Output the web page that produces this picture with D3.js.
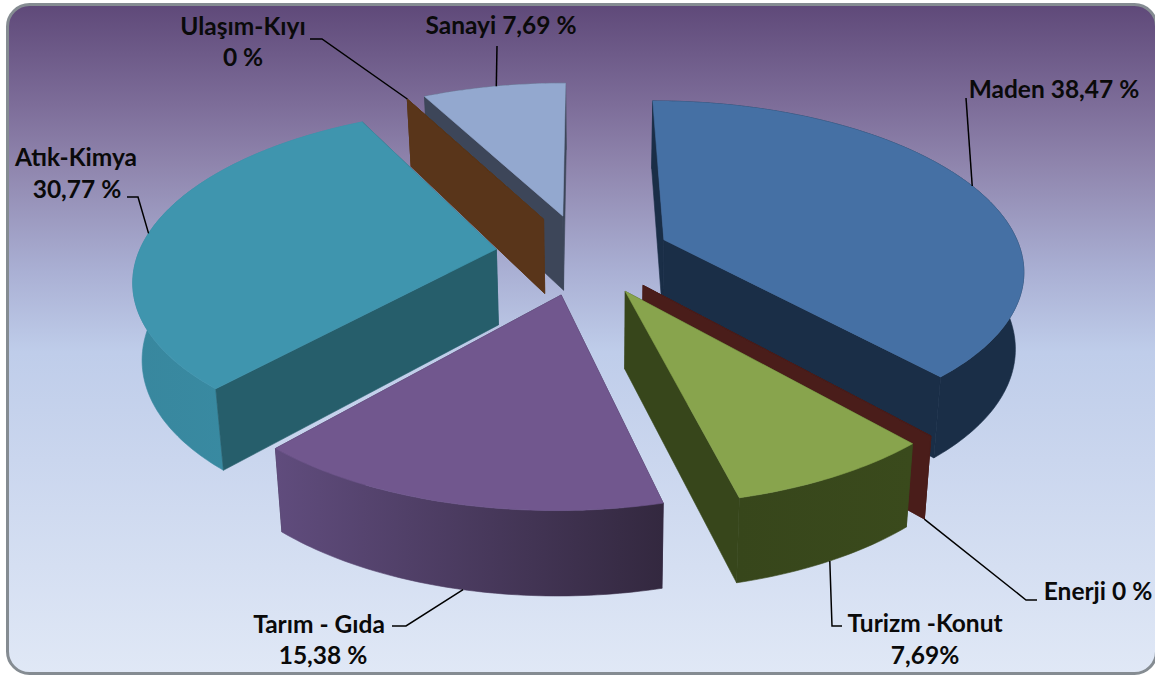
<!DOCTYPE html>
<html>
<head>
<meta charset="utf-8">
<script src="https://cdn.jsdelivr.net/npm/d3@7"></script>
<style>
html, body { margin: 0; padding: 0; background: #fff; }
svg { display: block; }
text { font-family: Lato, "Open Sans", sans-serif; font-weight: 700; font-size: 24.5px; fill: #0a0a0a; }
</style>
</head>
<body>
<script>
// values, clockwise from 12 o'clock
var categories = ["Maden", "Enerji", "Turizm -Konut", "Tarım - Gıda", "Atık-Kimya", "Ulaşım-Kıyı", "Sanayi"];
var shares = [38.47, 0, 7.69, 15.38, 30.77, 0, 7.69];
var shareLabels = ["38,47 %", "0 %", "7,69%", "15,38 %", "30,77 %", "0 %", "7,69 %"];

var topColors = ["#4570a4", "#4a1d1a", "#88a44d", "#71578e", "#3f95ae", "#59351a", "#93a8cf"];
var wallColors = ["#1a2e47", "#4a1d1a", "#37461b", "#3a2e4e", "#265e6b", "#59351a", "#3d4659"];
var rimLeft = ["#1a2e47", "#4a1d1a", "#37461b", "#604c7d", "#38879e", "#59351a", "#3d4659"];
var rimRight = ["#1a2e47", "#4a1d1a", "#3a4a1c", "#33283f", "#3a8ea6", "#59351a", "#3d4659"];

var width = 1155, height = 675;

// the projection of the tilted disc
var centreX = 583, centreY = 254;
var scaleX = 358, scaleY = 165.7, perspective = 0.162;
var explode = 0.245;
var sideHeight = 76, sideGrow = 7.6, sideLean = 0.02, leanCentre = 600;

var svg = d3.select("body").append("svg")
	.attr("width", width)
	.attr("height", height);

var defs = svg.append("defs");

var bg = defs.append("linearGradient").attr("id", "bg")
	.attr("x1", 0).attr("y1", 0).attr("x2", 0).attr("y2", 1);
[[0, "#5f4979"], [0.15, "#7d6d99"], [0.24, "#8f85ad"], [0.40, "#aab0d4"], [0.52, "#bfcdea"], [1, "#e0e8f6"]].forEach(function (s) {
	bg.append("stop").attr("offset", s[0]).attr("stop-color", s[1]);
});

svg.append("rect")
	.attr("x", 7.5).attr("y", 4.5)
	.attr("width", 1149).attr("height", 669)
	.attr("rx", 22).attr("ry", 22)
	.attr("fill", "url(#bg)")
	.attr("stroke", "#858c92")
	.attr("stroke-width", 3);

var slices = d3.pie().sort(null).value(function (d) { return d; })(shares);
slices.forEach(function (s, i) {
	s.i = i;
	s.mid = (s.startAngle + s.endAngle) / 2;
});

function project(s, a, r) {
	var u = explode * Math.sin(s.mid) + r * Math.sin(a);
	var v = -explode * Math.cos(s.mid) - r * Math.cos(a);
	var w = 1 - perspective * v;
	return { x: centreX + scaleX * u / w, y: centreY + scaleY * v / w, v: v };
}

function topPoint(s, a, r) {
	var p = project(s, a, r);
	return [p.x, p.y];
}

function bottomPoint(s, a, r) {
	var p = project(s, a, r);
	return [p.x - (p.x - leanCentre) * sideLean, p.y + sideHeight + sideGrow * p.v];
}

function arcAngles(s) {
	var n = Math.max(2, Math.ceil((s.endAngle - s.startAngle) * 60));
	return d3.range(n + 1).map(function (k) {
		return s.startAngle + (s.endAngle - s.startAngle) * k / n;
	});
}

var line = d3.line().curve(d3.curveLinear);

function closed(points) {
	return line(points) + "Z";
}

function wallPath(s, a) {
	return closed([topPoint(s, a, 0), topPoint(s, a, 1), bottomPoint(s, a, 1), bottomPoint(s, a, 0)]);
}

function rimPath(s) {
	var angles = arcAngles(s);
	var pts = angles.map(function (a) { return topPoint(s, a, 1); });
	var back = angles.slice().reverse().map(function (a) { return bottomPoint(s, a, 1); });
	return closed(pts.concat(back));
}

function topPath(s) {
	var pts = arcAngles(s).map(function (a) { return topPoint(s, a, 1); });
	return closed([topPoint(s, s.mid, 0)].concat(pts));
}

// back to front
var drawOrder = [6, 5, 4, 0, 1, 2, 3];
// which wall of each slice faces the viewer: "start", "end" or none at all
var frontWalls = ["end", "start", "end", null, "start", "start", "start"];

drawOrder.forEach(function (i) {
	var s = slices[i];
	var gradId = "rim" + i;
	var grad = defs.append("linearGradient").attr("id", gradId);
	grad.append("stop").attr("offset", 0).attr("stop-color", rimLeft[i]);
	grad.append("stop").attr("offset", 1).attr("stop-color", rimRight[i]);

	var g = svg.append("g").attr("class", "slice");

	function face(d, color) {
		g.append("path").attr("d", d)
			.attr("fill", color)
			.attr("stroke", color)
			.attr("stroke-width", 0.6);
	}

	// walls that face away go first, the rim and the top hide them
	if (frontWalls[i] !== "start") { face(wallPath(s, s.startAngle), wallColors[i]); }
	if (frontWalls[i] !== "end") { face(wallPath(s, s.endAngle), wallColors[i]); }
	face(rimPath(s), "url(#" + gradId + ")");
	if (frontWalls[i] === "start") { face(wallPath(s, s.startAngle), wallColors[i]); }
	if (frontWalls[i] === "end") { face(wallPath(s, s.endAngle), wallColors[i]); }
	face(topPath(s), topColors[i]);
});

// leader lines, each one ends on the edge of its slice
var leaderAngle = [1.21, 0, 2.66, 3.36, 4.81, 0, 6.05];
var leaderElbows = [
	[[966, 98]],
	[[1037, 600], [1026, 600]],
	[[842, 626], [832, 626]],
	[[392, 626], [406, 626]],
	[[127, 197], [138, 197]],
	[[310, 39], [322, 39]],
	[[497, 46]]
];

function leaderEnd(i) {
	var s = slices[i];
	if (i === 1) { return bottomPoint(s, s.mid, 1); }
	if (i === 5) { return topPoint(s, s.mid, 1); }
	var rimFront = i === 2 || i === 3;
	return rimFront ? bottomPoint(s, leaderAngle[i], 1) : topPoint(s, leaderAngle[i], 1);
}

slices.forEach(function (s, i) {
	svg.append("path")
		.attr("d", line(leaderElbows[i].concat([leaderEnd(i)])))
		.attr("fill", "none")
		.attr("stroke", "#000")
		.attr("stroke-width", 1.5);
});

// label lines: [x, baseline, text]
var labelRows = [
	[[1054, 98, categories[0] + " " + shareLabels[0]]],
	[[1098, 600, categories[1] + " " + shareLabels[1]]],
	[[925, 632, categories[2]], [925, 664, shareLabels[2]]],
	[[319, 633, categories[3]], [323, 664, shareLabels[3]]],
	[[76, 166, categories[4]], [77, 198, shareLabels[4]]],
	[[243, 35, categories[5]], [243, 66, shareLabels[5]]],
	[[501, 34, categories[6] + " " + shareLabels[6]]]
];

labelRows.forEach(function (rows) {
	rows.forEach(function (r) {
		svg.append("text")
			.attr("x", r[0])
			.attr("y", r[1])
			.attr("text-anchor", "middle")
			.text(r[2]);
	});
});
</script>
</body>
</html>
